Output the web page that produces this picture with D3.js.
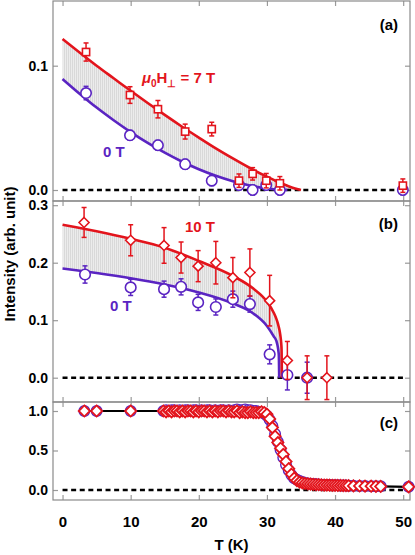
<!DOCTYPE html>
<html><head><meta charset="utf-8">
<script src="https://cdn.jsdelivr.net/npm/d3@7"></script>
<style>
html,body{margin:0;padding:0;background:#fff;}
svg text{font-family:"Liberation Sans",Arial,Helvetica,sans-serif;font-weight:bold;}
</style></head>
<body>
<svg id="chart" width="415" height="555"></svg>
<script>
// ---------- DATA ----------
const xTicks = [0, 10, 20, 30, 40, 50];
const yTicksA = [0, 0.1];
const yTicksB = [0, 0.1, 0.2, 0.3];
const yTicksC = [0, 0.5, 1.0];

// panel (a): points
const tA   = [3.45, 9.9, 14.0, 18.0, 21.9, 25.9, 27.9, 29.9, 31.9, 49.95];
const iA7  = [0.111, 0.0764, 0.065, 0.047, 0.049, 0.0075, 0.013, 0.0075, 0.0054, 0.0035];
const eA7  = [0.0073, 0.0067, 0.007, 0.006, 0.0055, 0.0054, 0.005, 0.0058, 0.0054, 0.0054];
const iA0  = [0.078, 0.044, 0.036, 0.0207, 0.0075, 0.004, 0.0, 0.004, 0.0, 0.0];
const eA0  = [0.0054, 0.004, 0.004, 0.004, 0.004, 0.004, 0.004, 0.004, 0.004, 0.004];
// panel (a): fit curves
const fitTA   = [0, 2.5, 5, 7.5, 10, 12.5, 15, 17.5, 20, 22.5, 25, 27.5, 30, 31, 32, 33, 34, 35];
const fitA7   = [0.1215, 0.1107, 0.100, 0.0899, 0.0798, 0.070, 0.0604, 0.0511, 0.0422, 0.0335, 0.0254, 0.0177, 0.0107, 0.0081, 0.0056, 0.0034, 0.0014, 0];
const fitA0   = [0.0893, 0.0775, 0.0663, 0.0561, 0.0466, 0.0379, 0.030, 0.0229, 0.0167, 0.0114, 0.0070, 0.0036, 0.0012, 0.0006, 0.0001, 0, 0, 0];

// panel (b): points
const tB10 = [3.16, 10.0, 14.9, 17.4, 19.9, 22.5, 25.0, 27.5, 30.4, 33.0, 35.9, 38.8];
const iB10 = [0.270, 0.239, 0.230, 0.209, 0.194, 0.200, 0.174, 0.183, 0.134, 0.030, 0.0, 0.0];
const eB10 = [0.026, 0.027, 0.031, 0.027, 0.027, 0.037, 0.035, 0.041, 0.044, 0.033, 0.038, 0.038];
const tB0  = [3.3, 10.0, 14.9, 17.4, 19.9, 22.5, 25.0, 27.5, 30.4, 33.0, 35.9];
const iB0  = [0.1795, 0.157, 0.154, 0.158, 0.131, 0.123, 0.1366, 0.128, 0.0406, 0.0047, 0.0];
const eB0  = [0.015, 0.014, 0.014, 0.014, 0.014, 0.014, 0.014, 0.014, 0.0165, 0.026, 0.027];
// panel (b): fit curves
const fitTB  = [0, 2, 5, 10, 15, 20, 25, 28, 30, 31, 31.4, 31.6, 31.7, 31.75, 31.8, 31.9, 32.0, 32.1, 32.15, 32.2];
const fitB10 = [0.266, 0.2616, 0.2546, 0.2415, 0.226, 0.203, 0.177, 0.155, 0.1324, 0.113, 0.1018, 0.0944, 0.090, 0.0876, 0.085, 0.0789, 0.071, 0.0593, 0.0495, 0];
const fitB0  = [0.190, 0.1869, 0.182, 0.1729, 0.162, 0.1483, 0.1292, 0.1117, 0.090, 0.072, 0.0636, 0.0535, 0.045, 0.0378, 0, 0, 0, 0, 0, 0];

// panel (c): normalised intensity
const tC = [3.2, 5.0, 10.0,
  14.8, 15.2, 15.6, 16.0, 16.4, 16.8, 17.2, 17.6, 18.0, 18.4, 18.8, 19.2, 19.6, 20.0, 20.4, 20.8, 21.2, 21.6,
  22.0, 22.4, 22.8, 23.2, 23.6, 24.0, 24.4, 24.8, 25.2, 25.6, 26.0, 26.4, 26.8, 27.2, 27.6, 28.0, 28.4, 28.8,
  29.2, 29.6, 30.0, 30.4, 30.8, 31.2, 31.6, 32.0, 32.4, 32.8, 33.2, 33.6, 34.0, 34.4, 34.8, 35.2, 35.6, 36.0,
  36.4, 36.8, 37.2, 37.6, 38.0, 38.4, 38.8, 39.2, 39.6, 40.0, 40.4, 40.8, 41.2, 41.6, 42.0,
  42.7, 43.6, 44.4, 45.3, 46.0, 46.7, 50.8];
const iC0 = [1.00, 1.00, 1.00,
  1.00, 1.01, 1.00, 1.01, 1.01, 1.00, 1.01, 1.00, 1.01, 1.01, 1.00, 1.01, 1.01, 1.00, 1.01, 1.00, 1.01, 1.01,
  1.00, 1.01, 1.00, 1.01, 1.01, 1.00, 1.01, 1.00, 1.01, 1.02, 1.01, 1.01, 1.02, 1.01, 1.01, 1.00, 1.00, 0.99,
  0.98, 0.97, 0.94, 0.89, 0.81, 0.71, 0.61, 0.51, 0.41, 0.32, 0.25, 0.19, 0.15, 0.13, 0.115, 0.10, 0.09, 0.082,
  0.078, 0.075, 0.072, 0.069, 0.066, 0.064, 0.063, 0.062, 0.061, 0.060, 0.059, 0.058, 0.057, 0.056, 0.055,
  0.053, 0.051, 0.050, 0.048, 0.047, 0.046, 0.040];
const iC10 = [1.00, 1.00, 1.00,
  1.00, 0.99, 1.00, 0.99, 1.00, 1.00, 0.99, 1.00, 0.99, 1.00, 1.00, 0.99, 1.00, 0.99, 1.00, 1.00, 0.99, 1.00,
  0.99, 1.00, 0.99, 1.00, 1.00, 0.99, 1.00, 0.99, 0.99, 1.00, 0.98, 0.99, 0.98, 0.98, 0.99, 0.98, 0.98, 0.98,
  0.99, 0.98, 0.96, 0.90, 0.79, 0.68, 0.60, 0.53, 0.45, 0.36, 0.27, 0.20, 0.15, 0.12, 0.10, 0.09, 0.083, 0.078,
  0.075, 0.072, 0.069, 0.067, 0.065, 0.063, 0.062, 0.061, 0.060, 0.059, 0.058, 0.057, 0.056, 0.055, 0.054,
  0.052, 0.051, 0.049, 0.048, 0.047, 0.045, 0.040];

// ---------- DRAW ----------
const RED = "#e3141c", BLUE = "#5a24c2";
const svg = d3.select("#chart");
const defs = svg.append("defs");
const pat = defs.append("pattern").attr("id","hatch").attr("patternUnits","userSpaceOnUse")
  .attr("width",2).attr("height",4);
pat.append("rect").attr("width",2).attr("height",4).attr("fill","#ececec");
pat.append("rect").attr("width",1).attr("height",4).attr("fill","#d9d9d9");

const L = 53, R = 410;
const x = d3.scaleLinear().domain([-1.4, 51.0]).range([L, R]);
const panels = [
  {top:1,   bot:201, y:d3.scaleLinear().domain([0,0.1]).range([190,65.7]),  yt:yTicksA, lab:"(a)", ly:30},
  {top:201, bot:402, y:d3.scaleLinear().domain([0,0.1]).range([377.7,320.2]), yt:yTicksB, lab:"(b)", ly:229},
  {top:402, bot:500, y:d3.scaleLinear().domain([0,1]).range([490,411]),     yt:yTicksC, lab:"(c)", ly:428}
];

function styleAxis(g, fs){
  g.select(".domain").remove();
  g.selectAll(".tick line").attr("stroke","#9a9a9a").attr("stroke-width",1.2);
  g.selectAll(".tick text").attr("fill","#000").style("font-size",(fs||15)+"px").style("font-weight","bold");
}

panels.forEach((p,k)=>{
  const g = svg.append("g");
  g.append("g").attr("transform",`translate(${L},0)`)
    .call(d3.axisLeft(p.y).tickValues(p.yt).tickSize(-5).tickPadding(5).tickFormat(d3.format(".1f")))
    .call(s=>styleAxis(s,14));
  g.append("g").attr("transform",`translate(${R},0)`)
    .call(d3.axisRight(p.y).tickValues(p.yt).tickSize(-5).tickFormat(""))
    .call(s=>styleAxis(s));
  g.append("g").attr("transform",`translate(0,${p.top})`)
    .call(d3.axisTop(x).tickValues(xTicks).tickSize(-5).tickFormat(""))
    .call(s=>styleAxis(s));
  g.append("g").attr("transform",`translate(0,${p.bot})`)
    .call(d3.axisBottom(x).tickValues(xTicks).tickSize(-5).tickPadding(16)
      .tickFormat(k===2 ? d3.format("d") : ""))
    .call(s=>styleAxis(s,15));
  g.append("rect").attr("x",L).attr("y",p.top).attr("width",R-L).attr("height",p.bot-p.top)
    .attr("fill","none").attr("stroke","#8a8a8a").attr("stroke-width",1.2);
  g.append("text").attr("x",398).attr("y",p.ly).attr("text-anchor","end")
    .style("font-size","15px").text(p.lab);
  p.g = g;
});

function zeroLine(p, t1){
  p.g.append("line").attr("x1",x(0)).attr("x2",x(t1)).attr("y1",p.y(0)).attr("y2",p.y(0))
    .attr("stroke","#000").attr("stroke-width",2.6).attr("stroke-dasharray","5,3.6");
}
function errBars(p, ts, vs, es, color){
  const g = p.g.append("g").attr("stroke",color).attr("stroke-width",1.5);
  ts.forEach((t,i)=>{
    const xx = x(t), y1 = p.y(vs[i]-es[i]), y2 = p.y(vs[i]+es[i]);
    g.append("line").attr("x1",xx).attr("x2",xx).attr("y1",y1).attr("y2",y2);
    g.append("line").attr("x1",xx-2.5).attr("x2",xx+2.5).attr("y1",y1).attr("y2",y1);
    g.append("line").attr("x1",xx-2.5).attr("x2",xx+2.5).attr("y1",y2).attr("y2",y2);
  });
}
function circles(p, ts, vs, color, r, sw){
  p.g.append("g").selectAll("circle").data(ts).join("circle")
    .attr("cx",d=>x(d)).attr("cy",(d,i)=>p.y(vs[i])).attr("r",r)
    .attr("fill","#fff").attr("stroke",color).attr("stroke-width",sw);
}
function squares(p, ts, vs, color, s){
  p.g.append("g").selectAll("rect").data(ts).join("rect")
    .attr("x",d=>x(d)-s/2).attr("y",(d,i)=>p.y(vs[i])-s/2).attr("width",s).attr("height",s)
    .attr("fill","#fff").attr("stroke",color).attr("stroke-width",1.6);
}
function diamonds(p, ts, vs, color, h, sw){
  p.g.append("g").selectAll("path").data(ts).join("path")
    .attr("d",(d,i)=>{const cx=x(d), cy=p.y(vs[i]);
      return `M${cx},${cy-h}L${cx+h},${cy}L${cx},${cy+h}L${cx-h},${cy}Z`;})
    .attr("fill","#fff").attr("stroke",color).attr("stroke-width",sw);
}
function fitPair(p, ts, top, bottom, tcTopIdx, tcBotIdx){
  const area = d3.area().x((d,i)=>x(ts[i])).y0((d,i)=>p.y(bottom[i])).y1((d,i)=>p.y(top[i]))
    .curve(d3.curveMonotoneX);
  p.g.append("path").attr("d",area(ts)).attr("fill","url(#hatch)");
  return {
    draw(){
      const lt = d3.line().x((d,i)=>x(ts[i])).y((d,i)=>p.y(bottom[i])).defined((d,i)=>i<=tcBotIdx)
        .curve(d3.curveMonotoneX);
      p.g.append("path").attr("d",lt(ts)).attr("fill","none").attr("stroke",BLUE).attr("stroke-width",2.6);
      const lr = d3.line().x((d,i)=>x(ts[i])).y((d,i)=>p.y(top[i])).defined((d,i)=>i<=tcTopIdx)
        .curve(d3.curveMonotoneX);
      p.g.append("path").attr("d",lr(ts)).attr("fill","none").attr("stroke",RED).attr("stroke-width",2.6);
    }
  };
}

// Panel (a)
{
  const p = panels[0];
  const f = fitPair(p, fitTA, fitA7, fitA0, fitTA.length-1, fitTA.indexOf(33));
  zeroLine(p, 50);
  f.draw();
  errBars(p, tA, iA0, eA0, BLUE);
  circles(p, tA, iA0, BLUE, 5.2, 1.6);
  errBars(p, tA, iA7, eA7, RED);
  squares(p, tA, iA7, RED, 7.2);
  const t = p.g.append("text").attr("x",142).attr("y",83).attr("fill",RED).style("font-size","15px");
  t.append("tspan").style("font-style","italic").text("μ");
  t.append("tspan").attr("dy",4).style("font-size","10px").text("0");
  t.append("tspan").attr("dy",-4).text("H");
  t.append("tspan").attr("dy",4).style("font-size","10px").text("⊥");
  t.append("tspan").attr("dy",-4).text(" = 7 T");
  p.g.append("text").attr("x",103).attr("y",157).attr("fill",BLUE).style("font-size","15px").text("0 T");
}
// Panel (b)
{
  const p = panels[1];
  const f = fitPair(p, fitTB, fitB10, fitB0, fitTB.length-1, fitTB.indexOf(31.8));
  zeroLine(p, 50);
  f.draw();
  errBars(p, tB0, iB0, eB0, BLUE);
  circles(p, tB0, iB0, BLUE, 5.3, 1.6);
  errBars(p, tB10, iB10, eB10, RED);
  diamonds(p, tB10, iB10, RED, 5, 1.6);
  p.g.append("text").attr("x",185).attr("y",232).attr("fill",RED).style("font-size","15px").text("10 T");
  p.g.append("text").attr("x",110).attr("y",311).attr("fill",BLUE).style("font-size","15px").text("0 T");
}
// Panel (c)
{
  const p = panels[2];
  zeroLine(p, 50);
  const ln = d3.line().x((d,i)=>x(tC[i])).y((d,i)=>p.y(iC0[i]));
  p.g.append("path").attr("d",ln(tC)).attr("fill","none").attr("stroke","#000").attr("stroke-width",2.2);
  circles(p, tC, iC0, BLUE, 5.3, 1.4);
  diamonds(p, tC, iC10, RED, 5.6, 1.8);
}

// axis titles
svg.append("text").attr("x",(L+R)/2).attr("y",550).attr("text-anchor","middle")
  .style("font-size","15px").text("T (K)");
svg.append("text").attr("transform","translate(15,254) rotate(-90)").attr("text-anchor","middle")
  .style("font-size","15px").text("Intensity (arb. unit)");
</script>
</body></html>
